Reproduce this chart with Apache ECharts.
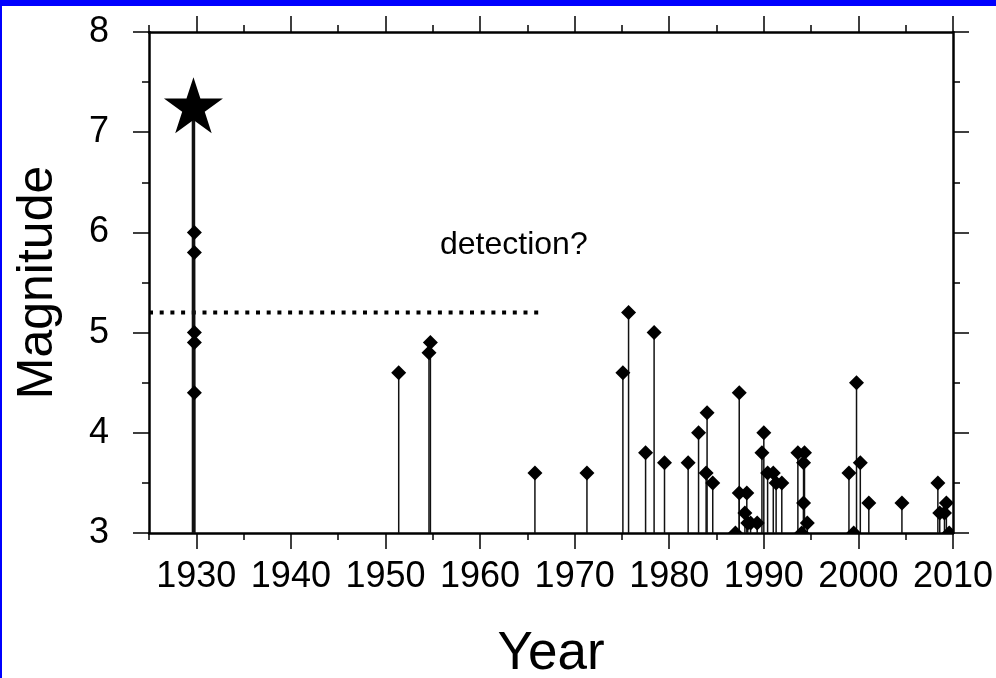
<!DOCTYPE html>
<html>
<head>
<meta charset="utf-8">
<script src="https://cdn.jsdelivr.net/npm/echarts@6/dist/echarts.min.js"></script>
<style>
html, body { margin: 0; padding: 0; background: #fff; }
#chart { width: 996px; height: 678px; }
</style>
</head>
<body>
<div id="chart"></div>
<script>
// events (year, magnitude)
const quakeYears = [1929.8, 1929.8, 1929.8, 1929.8, 1929.8,
    1951.4, 1954.6, 1954.75, 1965.8, 1971.3,
    1975.1, 1975.7, 1977.5, 1978.4, 1979.5, 1982.0, 1983.1, 1983.9, 1984.0, 1984.6,
    1987.0, 1987.4, 1987.4, 1988.0, 1988.2, 1988.3, 1988.6, 1989.3, 1989.8, 1990.0, 1990.4, 1991.0, 1991.3, 1991.9,
    1993.6, 1994.0, 1994.2, 1994.2, 1994.3, 1994.6,
    1999.0, 1999.5, 1999.8, 2000.2, 2001.1, 2004.6,
    2008.4, 2008.6, 2009.1, 2009.3, 2009.6];
const quakeMags = [6.0, 5.8, 5.0, 4.9, 4.4,
    4.6, 4.8, 4.9, 3.6, 3.6,
    4.6, 5.2, 3.8, 5.0, 3.7, 3.7, 4.0, 3.6, 4.2, 3.5,
    3.0, 4.4, 3.4, 3.2, 3.4, 3.1, 3.1, 3.1, 3.8, 4.0, 3.6, 3.6, 3.5, 3.5,
    3.8, 3.0, 3.7, 3.3, 3.8, 3.1,
    3.6, 3.0, 4.5, 3.7, 3.3, 3.3,
    3.5, 3.2, 3.2, 3.3, 3.0];

// main shock (star)
const mainYear = [1929.7];
const mainMag = [7.27];

// detection threshold (dotted)
const threshYears = [1925, 1966.4];
const threshMags = [5.2, 5.2];

// axis ticks
const majorYears = [1930, 1940, 1950, 1960, 1970, 1980, 1990, 2000, 2010];
const majorMags = [3, 4, 5, 6, 7, 8];

const FONT = '"Liberation Sans", Arial, Helvetica, sans-serif';
const STAR = 'path://M0,-10 L2.245,-3.09 L9.511,-3.09 L3.633,1.18 L5.878,8.09 L0,3.82 L-5.878,8.09 L-3.633,1.18 L-9.511,-3.09 L-2.245,-3.09 Z';

let events = quakeYears.map(function (y, i) { return [y, quakeMags[i]]; });
let mainData = mainYear.map(function (y, i) { return [y, mainMag[i]]; });
let threshData = threshYears.map(function (y, i) { return [y, threshMags[i]]; });

function stemItem(width) {
    return function (params, api) {
        let top = api.coord([api.value(0), api.value(1)]);
        let base = api.coord([api.value(0), 3]);
        return {
            type: 'line',
            shape: {x1: top[0], y1: base[1], x2: top[0], y2: top[1]},
            style: {stroke: '#111', lineWidth: width}
        };
    };
}

function diamondItem(params, api) {
    let p = api.coord([api.value(0), api.value(1)]);
    let h = 7.5;
    return {
        type: 'polygon',
        shape: {points: [[p[0], p[1] - h], [p[0] + h, p[1]], [p[0], p[1] + h], [p[0] - h, p[1]]]},
        style: {fill: '#000'}
    };
}

function xAx(pos, major, labels) {
    return {
        type: 'value', position: pos, min: 1925, max: 2010, interval: 5,
        axisLine: {show: !major, onZero: false, lineStyle: {color: '#000', width: 2.5}},
        axisTick: major ? {show: true, length: 16, customValues: majorYears, lineStyle: {color: '#000', width: 1.5}}
                        : {show: true, length: 7, lineStyle: {color: '#000', width: 1.5}},
        axisLabel: labels ? {show: true, customValues: majorYears, margin: 26, color: '#000', fontSize: 36, fontFamily: FONT,
                             formatter: function (v) { return String(v); }} : {show: false},
        splitLine: {show: false}
    };
}

function yAx(pos, major, labels) {
    return {
        type: 'value', position: pos, min: 3, max: 8, interval: 0.5,
        axisLine: {show: !major, onZero: false, lineStyle: {color: '#000', width: 2.5}},
        axisTick: major ? {show: true, length: 16, customValues: majorMags, lineStyle: {color: '#000', width: 1.5}}
                        : {show: true, length: 7, lineStyle: {color: '#000', width: 1.5}},
        axisLabel: labels ? {show: true, customValues: majorMags, margin: 40, color: '#000', fontSize: 36, fontFamily: FONT,
                             formatter: function (v) { return String(v); }} : {show: false},
        splitLine: {show: false}
    };
}

let xAxes = [xAx('bottom', false, true), xAx('bottom', true, false), xAx('top', false, false), xAx('top', true, false)];
xAxes[0].name = 'Year';
xAxes[0].nameLocation = 'middle';
xAxes[0].nameGap = 95;
xAxes[0].nameTextStyle = {color: '#000', fontSize: 53, fontFamily: FONT};

let yAxes = [yAx('left', false, true), yAx('left', true, false), yAx('right', false, false), yAx('right', true, false)];
yAxes[0].name = 'Magnitude';
yAxes[0].nameLocation = 'middle';
yAxes[0].nameRotate = 90;
yAxes[0].nameGap = 86;
yAxes[0].nameTextStyle = {color: '#000', fontSize: 50, fontFamily: FONT};

let myChart = echarts.init(document.getElementById('chart'), null, {renderer: 'canvas'});

let option = {
    backgroundColor: '#fff',
    animation: false,
    grid: {left: 149, right: 43, top: 32, bottom: 145, containLabel: false, outerBoundsMode: 'none'},
    xAxis: xAxes,
    yAxis: yAxes,
    graphic: [
        {type: 'rect', left: 0, top: 0, shape: {width: 996, height: 6}, style: {fill: '#0000ff'}, z: 100},
        {type: 'rect', left: 0, top: 0, shape: {width: 2, height: 678}, style: {fill: '#0000ff'}, z: 100},
        {type: 'text', left: 440, top: 229, style: {text: 'detection?', fill: '#000', fontSize: 32, fontFamily: FONT}}
    ],
    series: [
        {
            type: 'line', data: threshData, symbol: 'none', silent: true,
            lineStyle: {color: '#000', width: 4, type: [4, 6.7]}, z: 2
        },
        {type: 'custom', data: events, renderItem: stemItem(1.5), clip: true, z: 3},
        {type: 'custom', data: mainData, renderItem: stemItem(3.5), clip: true, z: 3},
        {type: 'custom', data: events, renderItem: diamondItem, clip: true, z: 4},
        {
            type: 'scatter', data: mainData, symbol: STAR, symbolSize: [59, 56],
            itemStyle: {color: '#000', opacity: 1}, z: 5
        }
    ]
};
myChart.setOption(option);
</script>
</body>
</html>
